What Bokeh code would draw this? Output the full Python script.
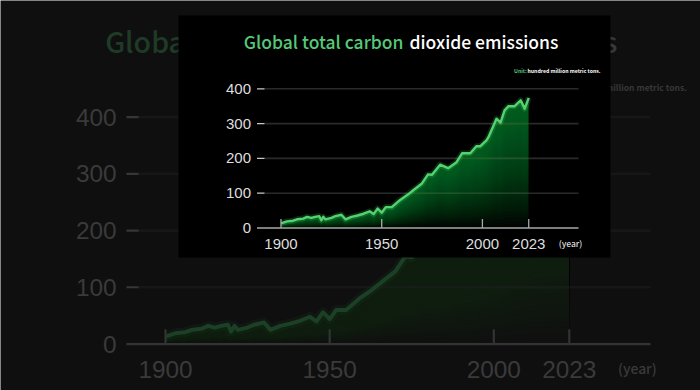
from bokeh.plotting import figure
from bokeh.models import Range1d
from bokeh.core.properties import value
from bokeh.embed import file_html
from bokeh.resources import INLINE

# ---------------- data ----------------
years = [1900, 1903, 1906, 1908, 1911, 1913, 1915, 1917, 1919, 1920, 1921, 1922,
         1925, 1927, 1930, 1932, 1935, 1938, 1941, 1944, 1946, 1948, 1950, 1952,
         1955, 1956, 1959, 1963, 1966, 1970, 1973, 1975, 1979, 1983, 1987, 1990,
         1994, 1997, 1999, 2002, 2003, 2007, 2009, 2011, 2013, 2016, 2019, 2021, 2023]
emissions = [13, 19, 21, 25, 27, 32, 29, 32, 34, 22, 32, 25,
             29, 34, 38, 25, 32, 36, 41, 48, 40, 56, 44, 60,
             60, 65, 80, 96, 110, 128, 154, 153, 182, 172, 188, 215,
             215, 235, 235, 252, 261, 314, 303, 338, 350, 350, 367, 343, 374]
x_ticks = [1900, 1950, 2000, 2023]
x_tick_labels = ["1900", "1950", "2000", "2023"]
y_ticks = [0, 100, 200, 300, 400]
y_tick_labels = ["0", "100", "200", "300", "400"]
title_green = "Global total carbon"
title_white = "dioxide emissions"
unit_head = "Unit:"
unit_rest = "hundred million metric tons."
year_label = "(year)"

# ---------------- layout (pixels of the small chart) ----------------
W, H = 700, 390
OFF = 0
X0PX, SX = 280.5, 2.014     # pixel of year 1900, pixels per year
Y0PX, SY = 227.5, 0.348     # pixel of value 0, pixels per unit
S, SHX, SHY = 1.63, -292.2, -27.3   # enlargement of the background chart


def inx(px):
    return 1900 + (px - X0PX) / SX


def iny(py):
    return (Y0PX - py) / SY


BG = "#0f0f0f"

p = figure(width=W, height=H, output_backend="svg", toolbar_location=None,
           x_axis_type=None, y_axis_type=None, min_border=0,
           x_range=Range1d(inx((OFF - SHX) / S), inx((OFF + W - SHX) / S)),
           y_range=Range1d(iny((OFF + H - SHY) / S), iny((OFF - SHY) / S)),
           background_fill_color=BG, border_fill_color=BG,
           outline_line_color=None)
p.grid.visible = False
p.extra_x_ranges = {"inset": Range1d(inx(OFF), inx(OFF + W))}
p.extra_y_ranges = {"inset": Range1d(iny(OFF + H), iny(OFF))}

LABEL_FONT = value("Liberation Sans")
TITLE_FONT = value("'Noto Sans CJK SC Medium', 'Noto Sans CJK SC'")
SMALL_FONT = value("Noto Sans CJK SC")


def draw_chart(rn, k, level, c):
    kw = dict(x_range_name=rn, y_range_name=rn, level=level)
    gl, gr, dl = inx(264), inx(578), inx(256.5)
    # gridlines
    p.segment(x0=[gl] * 4, x1=[gr] * 4, y0=y_ticks[1:], y1=y_ticks[1:],
              line_color=c["grid"], line_width=1.6 * k, **kw)
    # y dashes
    p.segment(x0=[dl] * 4, x1=[gl] * 4, y0=y_ticks[1:], y1=y_ticks[1:],
              line_color=c["dash"], line_width=1.3 * k, **kw)
    # fill (layered to imitate a gradient)
    n = 36
    for i in range(n):
        p.varea(x=years, y1=[v * i / n for v in emissions], y2=emissions,
                fill_color=c["fill"], fill_alpha=0.034, **kw)
    # line with glow
    p.line(years, emissions, line_color=c["line"], line_width=6 * k,
           line_alpha=0.18, line_join="round", **kw)
    p.line(years, emissions, line_color=c["line"], line_width=2.4 * k,
           line_join="round", **kw)
    # x axis line and ticks
    p.segment(x0=[dl], x1=[gr], y0=[0], y1=[0], line_color=c["axis"],
              line_width=1.4 * k, **kw)
    tick_top = 9 / SY
    p.segment(x0=x_ticks, x1=x_ticks, y0=[0] * 4, y1=[tick_top] * 4,
              line_color=c["axis"], line_width=1.3 * k, **kw)
    fs = lambda s: value("%.1fpx" % (s * k))
    # y tick labels
    p.text(x=[inx(250.5)] * 5, y=y_ticks, text=y_tick_labels, text_align="right",
           text_baseline="middle", text_font=LABEL_FONT, text_font_size=fs(15),
           text_color=c["label"], **kw)
    # x tick labels
    p.text(x=x_ticks, y=[iny(243)] * 4, text=x_tick_labels, text_align="center",
           text_baseline="middle", text_font=LABEL_FONT, text_font_size=fs(15),
           text_color=c["label"], **kw)
    p.text(x=[inx(570)], y=[iny(242)], text=[year_label], text_align="center",
           text_baseline="middle", text_font=TITLE_FONT, text_font_size=fs(8.5),
           text_color=c["label"], **kw)
    # title
    p.text(x=[inx(403)], y=[iny(41)], text=[title_green], text_align="right",
           text_baseline="middle", text_font=TITLE_FONT, text_font_size=fs(17.5),
           text_color=c["green"], **kw)
    p.text(x=[inx(409)], y=[iny(41)], text=[title_white], text_align="left",
           text_baseline="middle", text_font=TITLE_FONT, text_font_size=fs(17.5),
           text_color=c["white"], **kw)
    # unit
    p.text(x=[inx(513.5)], y=[iny(70)], text=[unit_head], text_align="left",
           text_baseline="middle", text_font=SMALL_FONT, text_font_size=fs(5.2),
           text_font_style="bold", text_color=c["green"], **kw)
    p.text(x=[inx(527)], y=[iny(70)], text=[unit_rest], text_align="left",
           text_baseline="middle", text_font=SMALL_FONT, text_font_size=fs(5.2),
           text_font_style="bold", text_color=c["white"], **kw)


bg_colors = dict(grid="#171717", dash="#363636", fill="#15361c", line="#1b4025",
                 axis="#343434", label="#3a3a3a", green="#1e3b27", white="#383838")
in_colors = dict(grid="#2a2a2a", dash="#c8c8c8", fill="#2a8c42", line="#52d370",
                 axis="#a8a8a8", label="#dedede", green="#55c978", white="#ffffff")

# enlarged, dimmed chart in the background
draw_chart("default", S, "image", bg_colors)

# black panel of the small chart
p.quad(left=[inx(178)], right=[inx(610)], top=[iny(15)], bottom=[iny(257)],
       fill_color="#000000", line_color=None, x_range_name="inset",
       y_range_name="inset", level="underlay")

# small chart on top
draw_chart("inset", 1.0, "glyph", in_colors)

open("out.html", "w").write(file_html(p, INLINE))
